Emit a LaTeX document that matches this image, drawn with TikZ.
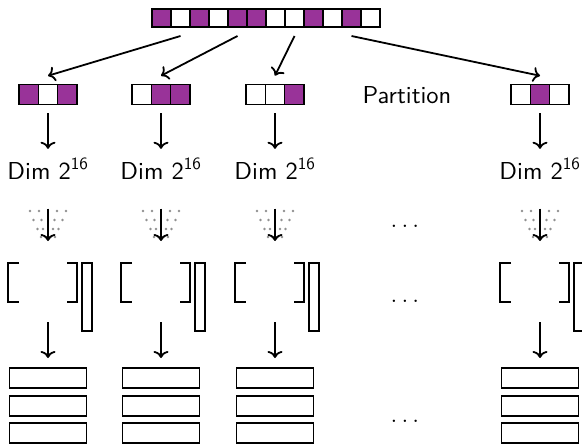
\documentclass[tikz,border=0pt]{standalone}
\usepackage{fontspec}
\setsansfont{lmsans10-regular.otf}[BoldFont=lmsans10-bold.otf]
\usepackage{tikz}
\usetikzlibrary{positioning,calc,arrows.meta}
\definecolor{plum}{HTML}{993399}
\definecolor{raygray}{HTML}{909090}
\tikzset{
  bit/.style={draw,line width=1.4pt,inner sep=0pt,outer sep=0pt,minimum width=19pt,minimum height=18pt},
  subbit/.style={bit,minimum width=19.3pt,minimum height=19.5pt},
  flow/.style={line width=1.8pt,-{To[length=7pt,width=15pt]}},
  bracket/.style={line width=2.2pt},
  slot/.style={draw,line width=1.5pt,inner sep=0pt,outer sep=0pt,minimum width=77pt,minimum height=20pt},
}
\begin{document}
\begin{tikzpicture}[x=1pt,y=-1pt,font=\sffamily\fontsize{24.5}{29}\selectfont]
        \useasboundingbox (0,0) rectangle (582,444);
        % full register
        \foreach \f [count=\k] in {plum,white,plum,white,plum,plum,white,white,plum,white,plum,white}{
          \node[bit,fill=\f] (t\k) at (152+19*\k-9.5,18) {};}
        \node[anchor=base] (part) at (407,103) {Partition};
        % one column per partition
        \foreach \c/\src/\fa/\fb/\fc [count=\i] in {48/2/plum/white/plum,161/5/white/plum/plum,275/8/white/white/plum,540/11/white/plum/white}{
          \node[subbit,fill=\fb] (p\i) at (\c,94.5) {};
          \node[subbit,fill=\fa] (pl\i) at (\c-19.3,94.5) {};
          \node[subbit,fill=\fc] (pr\i) at (\c+19.3,94.5) {};
          \draw[flow] ($(t\src.south)+(0,9)$) -- ($(p\i.north)+(0,-9)$);
          \node[anchor=base] (d\i) at (\c,179) {Dim 2\textsuperscript{16}};
          \draw[flow] ($(p\i.south)+(0,9)$) -- ($(d\i.north)+(0,-6)$);
          % rays into the tip
          \coordinate (f\i) at (\c,241);
          \foreach \ox/\oy/\ix in {18/211/9,14.5/220/6.5,10.5/229/5,7/237/2.5}{
            \fill[raygray] (\c-\ox,\oy) circle (1.4) (\c+\ox,\oy) circle (1.4)
              (\c-\ix,\oy) circle (1.4) (\c+\ix,\oy) circle (1.4);}
          \draw[flow] ($(d\i.south)+(0,26)$) -- (f\i);
          % matrix and vector
          \node[minimum width=69pt,minimum height=39pt,inner sep=0pt,outer sep=0pt] (m\i) at (\c-5.5,282.5) {};
          \draw[bracket] ($(m\i.north west)+(11,0)$) -- (m\i.north west) -- (m\i.south west) -- ($(m\i.south west)+(11,0)$);
          \draw[bracket] ($(m\i.north east)+(-10,0)$) -- (m\i.north east) -- (m\i.south east) -- ($(m\i.south east)+(-10,0)$);
          \node[draw,line width=1.5pt,inner sep=0pt,minimum width=10pt,minimum height=68pt] (v\i) at (\c+39,297) {};
          % output slots
          \foreach \y [count=\j] in {378,406,433}{
            \node[slot] (s\i\j) at (\c,\y) {};}
          \draw[flow] ($(m\i.south -| s\i1.north)+(0,20)$) -- ($(s\i1.north)+(0,-10)$);
        }
        \foreach \y [count=\k] in {227,302,422}{
          \node[anchor=base] (gap\k) at (405,\y) {$\ldots$};}
      \end{tikzpicture}
\end{document}
